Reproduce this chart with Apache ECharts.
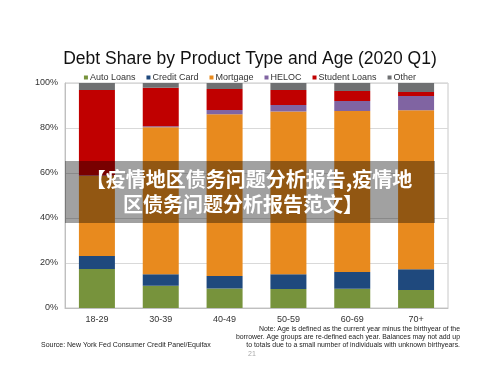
<!DOCTYPE html>
<html>
<head>
<meta charset="utf-8">
<script src="https://cdn.jsdelivr.net/npm/echarts@6/dist/echarts.min.js"></script>
<style>
html,body{margin:0;padding:0;background:#fff;}
#c{width:500px;height:386px;}
</style>
</head>
<body>
<div id="c"></div>
<script>
var categories = ['18-29', '30-39', '40-49', '50-59', '60-69', '70+'];
var autoLoans = [17.3, 9.9, 8.7, 8.4, 8.6, 8.0];
var creditCard = [5.8, 5.1, 5.5, 6.6, 7.4, 9.2];
var mortgage = [35.6, 65.3, 71.9, 72.3, 71.6, 70.7];
var heloc = [0.2, 0.5, 1.9, 2.9, 4.4, 6.3];
var studentLoans = [38.0, 17.1, 9.3, 6.7, 4.4, 1.8];
var other = [3.1, 2.1, 2.7, 3.1, 3.6, 4.0];
var yTicks = [0, 20, 40, 60, 80, 100];

var seriesNames = ['Auto Loans', 'Credit Card', 'Mortgage', 'HELOC', 'Student Loans', 'Other'];
var seriesData = [autoLoans, creditCard, mortgage, heloc, studentLoans, other];
var colors = ['#77933C', '#1F497D', '#E88A1E', '#8064A2', '#C00000', '#6F7072'];
var bannerLines = ['【疫情地区债务问题分析报告,疫情地', '区债务问题分析报告范文】'];
var noteLines = [
  'Note: Age is defined as the current year minus the birthyear of the',
  'borrower. Age groups are re-defined each year. Balances may not add up',
  'to totals due to a small number of individuals with unknown birthyears.'
];

var FONT = 'Liberation Sans, Arial, sans-serif';
var chart = echarts.init(document.getElementById('c'), null, {renderer: 'canvas'});

var series = seriesNames.map(function (n, i) {
  return {
    name: n,
    type: 'bar',
    stack: 'total',
    barWidth: 36,
    data: seriesData[i],
    itemStyle: {color: colors[i]},
    emphasis: {disabled: true}
  };
});

var graphics = [
  {
    type: 'rect', z: 100,
    shape: {x: 65, y: 161, width: 370, height: 62},
    style: {fill: 'rgba(0,0,0,0.37)'}
  },
  {
    type: 'text', z: 101, x: 249, y: 179,
    style: {
      text: bannerLines[0],
      font: 'bold 20px "Noto Sans CJK SC", sans-serif',
      fill: '#fff', textAlign: 'center', textVerticalAlign: 'middle'
    }
  },
  {
    type: 'text', z: 101, x: 243, y: 204,
    style: {
      text: bannerLines[1],
      font: 'bold 20px "Noto Sans CJK SC", sans-serif',
      fill: '#fff', textAlign: 'center', textVerticalAlign: 'middle'
    }
  },
  {
    type: 'text', z: 101, x: 41, y: 345,
    style: {
      text: 'Source: New York Fed Consumer Credit Panel/Equifax',
      font: '7px Liberation Sans, Arial, sans-serif',
      fill: '#222', textVerticalAlign: 'middle'
    }
  },
  {
    type: 'text', z: 101, x: 248, y: 354,
    style: {text: '21', font: '7px Liberation Sans, Arial, sans-serif', fill: '#aaa', textVerticalAlign: 'middle'}
  }
];
noteLines.forEach(function (t, i) {
  graphics.push({
    type: 'text', z: 101, x: 460, y: 329 + i * 8,
    style: {
      text: t,
      font: '6.9px Liberation Sans, Arial, sans-serif',
      fill: '#222', textAlign: 'right', textVerticalAlign: 'middle'
    }
  });
});

chart.setOption({
  animation: false,
  backgroundColor: '#fff',
  textStyle: {fontFamily: FONT},
  title: {
    text: 'Debt Share by Product Type and Age (2020 Q1)',
    left: 'center',
    top: 45,
    textStyle: {fontFamily: FONT, fontSize: 17.5, fontWeight: 'normal', color: '#111'}
  },
  legend: {
    data: seriesNames,
    left: 'center',
    top: 68,
    itemWidth: 4,
    itemHeight: 4,
    itemGap: 11,
    icon: 'rect',
    textStyle: {fontFamily: FONT, fontSize: 9, color: '#333', padding: [0, 0, 0, -3]}
  },
  grid: {left: 65, right: 52, top: 83, bottom: 78, show: true, borderColor: '#c8c8c8', borderWidth: 1},
  xAxis: {
    type: 'category',
    data: categories,
    axisLine: {show: true, lineStyle: {color: '#bfbfbf'}},
    axisTick: {show: false},
    axisLabel: {fontFamily: FONT, fontSize: 9, color: '#333', margin: 7}
  },
  yAxis: {
    type: 'value',
    min: yTicks[0],
    max: yTicks[yTicks.length - 1],
    interval: 20,
    axisLine: {show: true, lineStyle: {color: '#bfbfbf'}},
    axisTick: {show: false},
    splitLine: {lineStyle: {color: '#d9d9d9'}},
    axisLabel: {fontFamily: FONT, fontSize: 9, color: '#333', margin: 7, formatter: '{value}%'}
  },
  series: series,
  graphic: graphics
});
</script>
</body>
</html>
